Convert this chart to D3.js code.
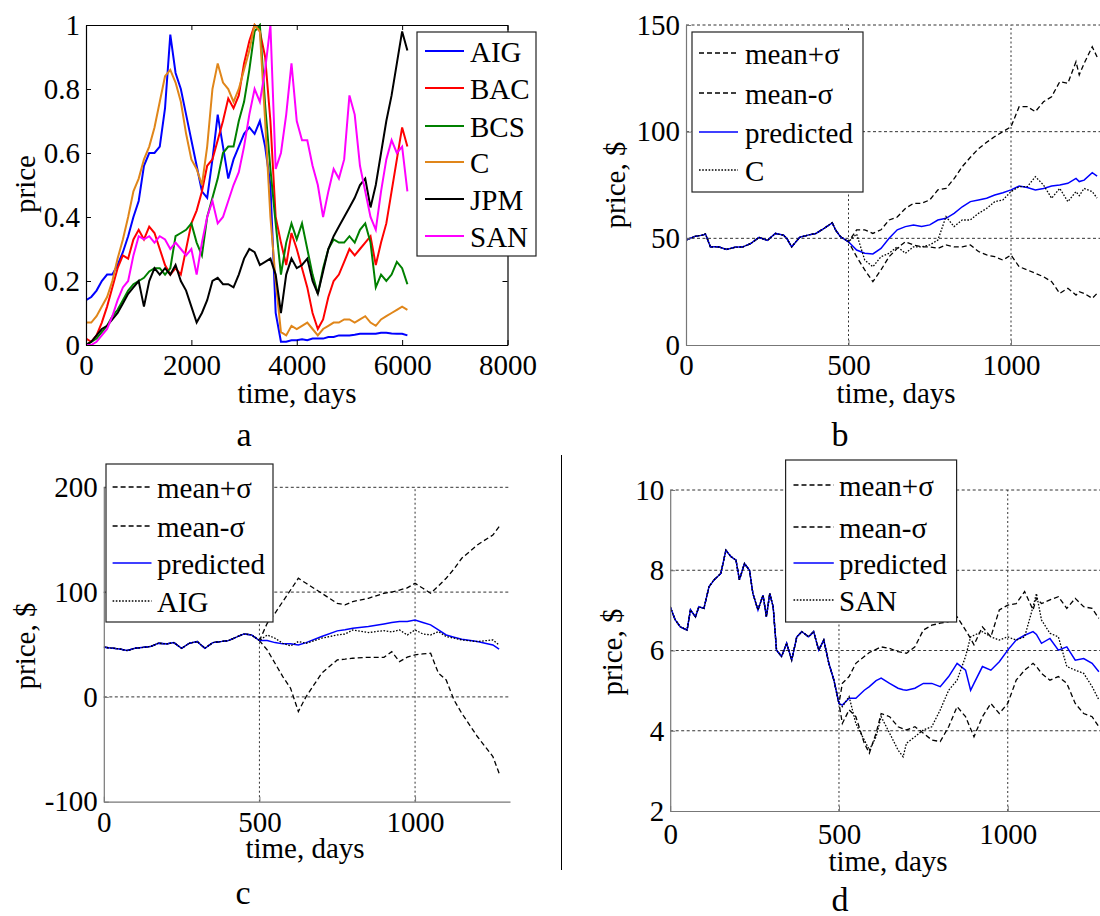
<!DOCTYPE html>
<html>
<head>
<meta charset="utf-8">
<script src="https://cdn.jsdelivr.net/npm/d3@7"></script>
<style>
body { margin: 0; background: #fff; }
svg { display: block; }
svg text { font-family: "Liberation Serif", serif !important; }
</style>
</head>
<body>
<svg id="fig" width="1100" height="916" font-family="Liberation Serif"></svg>
<script>
'use strict';

// ---- panel a: normalised prices, one value per 100 days ----
const aDays = d3.range(0, 6101, 100);
const aNames = ['AIG', 'BAC', 'BCS', 'C', 'JPM', 'SAN'];
const aColors = ['#0000ff', '#ff0000', '#008000', '#e0861a', '#000000', '#ff00ff'];
const aAIG = [0.14,0.15,0.17,0.20,0.22,0.22,0.25,0.29,0.34,0.40, 0.45,0.56,0.60,0.60,0.62,0.74,0.97,0.85,0.80,0.72,
  0.64,0.56,0.48,0.46,0.58,0.72,0.62,0.52,0.58,0.62, 0.66,0.68,0.66,0.70,0.62,0.50,0.10,0.01,0.01,0.015,
  0.015,0.018,0.015,0.02,0.02,0.02,0.025,0.025,0.03,0.03, 0.03,0.032,0.035,0.035,0.035,0.035,0.038,0.038,0.036,0.035,
  0.035,0.03];
const aBAC = [0.02,0.01,0.03,0.07,0.12,0.18,0.24,0.28,0.27,0.33, 0.36,0.33,0.37,0.35,0.30,0.25,0.22,0.24,0.22,0.30,
  0.38,0.42,0.48,0.56,0.58,0.64,0.70,0.77,0.74,0.78, 0.88,0.95,1.0,0.98,0.90,0.70,0.40,0.32,0.25,0.35,
  0.30,0.24,0.18,0.10,0.05,0.08,0.15,0.20,0.22,0.26, 0.30,0.28,0.30,0.32,0.34,0.25,0.32,0.38,0.48,0.58,
  0.68,0.62];
const aBCS = [0.0,0.01,0.02,0.04,0.06,0.09,0.11,0.14,0.17,0.19, 0.20,0.21,0.23,0.24,0.24,0.22,0.24,0.34,0.35,0.36,
  0.38,0.32,0.28,0.40,0.46,0.52,0.60,0.62,0.62,0.70, 0.76,0.86,0.98,1.0,0.75,0.55,0.38,0.22,0.32,0.38,
  0.33,0.38,0.30,0.22,0.16,0.24,0.30,0.33,0.32,0.32, 0.34,0.32,0.36,0.38,0.32,0.18,0.22,0.20,0.22,0.26,
  0.24,0.19];
const aC = [0.07,0.07,0.09,0.12,0.15,0.20,0.27,0.33,0.40,0.48, 0.52,0.58,0.62,0.68,0.76,0.84,0.86,0.82,0.76,0.66,
  0.58,0.55,0.50,0.62,0.80,0.88,0.82,0.80,0.76,0.80, 0.86,0.92,1.0,0.98,0.70,0.40,0.20,0.04,0.03,0.06,
  0.05,0.06,0.07,0.05,0.03,0.05,0.06,0.07,0.07,0.08, 0.08,0.07,0.08,0.09,0.07,0.06,0.08,0.09,0.10,0.11,
  0.12,0.11];
const aJPM = [0.0,0.01,0.03,0.05,0.06,0.08,0.10,0.13,0.16,0.18, 0.20,0.12,0.20,0.24,0.22,0.24,0.22,0.25,0.20,0.17,
  0.12,0.07,0.10,0.14,0.20,0.21,0.19,0.19,0.18,0.22, 0.27,0.30,0.29,0.25,0.26,0.27,0.22,0.10,0.22,0.27,
  0.24,0.25,0.27,0.20,0.16,0.23,0.30,0.34,0.37,0.40, 0.43,0.46,0.50,0.52,0.43,0.50,0.60,0.70,0.78,0.88,
  0.98,0.92];
const aSAN = [0.0,0.0,0.01,0.03,0.05,0.09,0.14,0.18,0.20,0.28, 0.34,0.33,0.34,0.32,0.34,0.33,0.30,0.32,0.30,0.28,
  0.30,0.22,0.32,0.40,0.45,0.38,0.40,0.45,0.50,0.54, 0.62,0.72,0.80,0.76,0.86,1.0,0.55,0.60,0.72,0.88,
  0.70,0.64,0.64,0.56,0.50,0.40,0.48,0.55,0.52,0.58, 0.78,0.72,0.56,0.48,0.40,0.36,0.48,0.58,0.64,0.60,
  0.62,0.48];

// ---- panel b: C ----
const bHistDays = [0,25,50,60,75,100,125,150,175,200,225,250,275,300,310,325,350,375,400,425,450,460,475,500];
const bHist = [49.2,50.8,51.5,52,46,46,44.8,45.8,46,47.6,50.5,49,52.3,51.5,50,46,50.5,51.5,52.3,54.7,57.3,54,50.8,48.4];
const bFutDays = [500,525,550,575,600,625,650,675,700,725,750,775,800,825,850,875,900,925,950,975,1000,1025,1050,1075,1100,1125,1150,1175,1200,1210,1225,1250,1265];
const bUpper = [48.4,54,54,52.3,54,58.6,60,64,66.4,66.4,68,72.7,73.4,78,83.6,88,92,95,97.7,100,102.3,111.7,111.7,109.4,114,116.4,123.4,122.7,132.8,126.6,132,139.8,135];
const bLower = [48.4,41.4,35.2,29.7,35.2,41.4,45.3,48.4,46.9,46,46,45.3,46.9,46,46,46.9,43.8,42.2,41.4,39.8,42.2,36.7,35.2,33.6,32,29.7,24.2,26.6,23.4,25,24.2,21.9,24.2];
const bPred = [48.4,44.5,43,42.7,45.3,50,54,55.5,56.3,55.5,56.3,58.6,59.4,61.7,64.8,67.2,68,68.8,70.3,71.4,72.7,74.5,73.8,72.7,73.4,74.5,75,75.8,78.1,76.6,77.3,80.8,79.2];
const bActual = [48.4,52,39.8,36.7,41.4,43,46,43,46,46,46.9,49.2,60.2,55.5,58.6,58.6,61.7,64,67.2,68,71.9,74.2,74.2,78.9,75,68.8,73.4,67.2,71.9,70,73.4,71.9,68.8];

// ---- panel c: AIG ----
const cHistDays = [0,50,75,100,150,175,200,225,250,275,300,325,350,400,450,475,500];
const cHist = [47.4,45.8,44.2,46.4,48,51.2,50.6,51.8,46.4,51.2,52.8,46.4,51.8,53.7,60.1,59.1,53.7];
const cFutDays = [500,525,550,575,600,625,650,700,750,775,800,850,900,925,950,975,1000,1025,1050,1075,1100,1125,1150,1200,1250,1270];
const cUpper = [53.7,70.3,79.8,91,102,113.2,108.4,98.9,89.3,87.8,91,94.1,98.9,100,102,104,108.4,103.7,98.9,105.9,113.2,122,132.3,145,154.5,162.5];
const cLower = [53.7,44.8,32.1,19.4,8.3,-14,0.3,22.6,35.3,36,36.9,37.8,37.8,43.2,33.7,38,40.1,41,41.7,22.6,16.2,-2.9,-15.6,-37.8,-56.9,-72.8];
const cPred = [53.7,53.7,51.8,50.6,50.6,49.6,51.8,57.6,63,64,65.5,67.1,69.6,71,71.9,72,73.4,71,68.7,63.9,59.1,57,55,52.8,49.6,45.5];
const cActual = [53.7,59.1,56,51.2,48.6,52.8,51.2,56,59.1,60,63.9,61.4,63.3,62,63.9,59.1,63.9,60.1,59.1,62.3,57.6,56,54.4,52.8,54.4,49.6];

// ---- panel d: SAN ----
const dHistDays = [0,15,30,50,60,75,85,100,115,130,150,165,180,195,205,220,235,245,260,275,285,295,305,315,330,345,360,375,390,410,425,440,455,470,485,500];
const dHist = [7.09,6.76,6.59,6.51,7.01,6.84,7.09,7.05,7.59,7.76,7.92,8.50,8.34,8.25,7.76,8.17,8.00,7.42,7.01,7.38,6.84,7.42,7.09,6.01,5.85,6.18,5.76,6.34,6.47,6.34,6.47,6.01,6.26,5.68,5.26,4.68];
const dFutDays = [500,510,530,550,575,590,610,625,650,675,690,700,725,750,775,800,825,850,875,890,900,925,950,975,1000,1025,1050,1075,1085,1100,1125,1150,1175,1200,1225,1250,1270];
const dUpper = [4.68,5.18,5.35,5.68,5.85,5.95,6.03,6.09,6.05,5.97,5.95,5.93,6.09,6.51,6.63,6.68,6.72,6.84,6.51,6.30,6.14,6.59,6.34,7.01,7.13,7.17,7.47,7.01,7.30,7.17,7.26,7.34,7.05,7.30,7.09,7.05,6.80];
const dLower = [4.68,4.18,4.52,4.35,3.69,3.44,3.94,4.43,4.35,4.10,4.05,4.02,4.10,3.94,3.77,3.73,4.10,4.60,4.35,4.05,3.85,4.35,4.68,4.43,4.68,5.26,5.51,5.68,5.60,5.43,5.26,5.35,5.18,4.68,4.43,4.35,4.10];
const dPred = [4.68,4.64,4.81,4.81,5.01,5.10,5.25,5.31,5.18,5.06,5.02,5.01,5.06,5.18,5.18,5.10,5.35,5.68,5.51,5.01,5.18,5.60,5.51,5.72,6.01,6.26,6.38,6.47,6.40,6.18,6.30,6.01,6.09,5.76,5.80,5.68,5.47];
const dActual = [4.68,4.60,4.85,4.18,3.77,3.52,3.85,4.35,3.94,3.52,3.35,3.69,3.85,4.02,4.10,4.52,5.01,5.26,5.85,6.34,6.38,6.47,6.34,6.26,6.34,6.26,6.34,7.09,7.42,6.76,6.43,6.34,5.60,5.51,5.43,5.10,4.77];

const forecastLabels = ['mean+\u03c3', 'mean-\u03c3', 'predicted'];
const DASH = '5,3', DOT = '1.6,1.6';
const FONT = 29;
const SERIF = 'Liberation Serif';

const svg = d3.select('#fig');
svg.append('rect').attr('width', 1100).attr('height', 916).attr('fill', '#fff');

// join history + forecast into one line
function joinSeries(hd, hv, fd, fv) {
    const out = hd.map((d, i) => [d, hv[i]]);
    for (let i = 1; i < fd.length; i++) out.push([fd[i], fv[i]]);
    return out;
}

function forecastPanel(histDays, hist, futDays, upper, lower, pred, actual, stock) {
    return [
        {name: forecastLabels[0], pts: joinSeries(histDays, hist, futDays, upper), color: '#000', dash: DASH, w: 1.3},
        {name: forecastLabels[1], pts: joinSeries(histDays, hist, futDays, lower), color: '#000', dash: DASH, w: 1.3},
        {name: forecastLabels[2], pts: joinSeries(histDays, hist, futDays, pred), color: '#0000ff', dash: null, w: 1.5},
        {name: stock, pts: joinSeries(histDays, hist, futDays, actual), color: '#000', dash: DOT, w: 1.3}
    ];
}

function drawPanel(p) {
    const x = d3.scaleLinear().domain(p.xDomain).range(p.xRange);
    const y = d3.scaleLinear().domain(p.yDomain).range(p.yRange);
    const g = svg.append('g').attr('class', 'panel-' + p.id).attr('font-family', SERIF);
    const xr = Math.min(p.xRange[1], 1100);

    g.append('clipPath').attr('id', 'clip-' + p.id).append('rect')
        .attr('x', p.xRange[0]).attr('y', p.yRange[1] - 2)
        .attr('width', p.xRange[1] - p.xRange[0]).attr('height', p.yRange[0] - p.yRange[1] + 4);

    // grid
    if (p.grid) {
        p.xGrid.forEach(v => {
            g.append('line').attr('x1', x(v)).attr('x2', x(v))
                .attr('y1', p.yRange[0]).attr('y2', p.yRange[1])
                .attr('stroke', '#333').attr('stroke-width', 1).attr('stroke-dasharray', '2,2.5');
        });
        p.yGrid.forEach(v => {
            g.append('line').attr('x1', p.xRange[0]).attr('x2', xr)
                .attr('y1', y(v)).attr('y2', y(v))
                .attr('stroke', '#333').attr('stroke-width', 1).attr('stroke-dasharray', '3,2.5');
        });
    }

    // lines
    const line = d3.line().x(d => x(d[0])).y(d => y(d[1]));
    const lg = g.append('g').attr('clip-path', 'url(#clip-' + p.id + ')');
    p.series.forEach(s => {
        lg.append('path').datum(s.pts)
            .attr('d', line)
            .attr('fill', 'none')
            .attr('stroke', s.color)
            .attr('stroke-width', s.w)
            .attr('stroke-dasharray', s.dash);
    });

    // axes
    const fmt = d => String(d);
    const xa = g.append('g').attr('transform', 'translate(0,' + p.yRange[0] + ')')
        .call(d3.axisBottom(x).tickValues(p.xTicks).tickSize(-5).tickSizeOuter(0).tickPadding(p.xPad).tickFormat(fmt));
    const ya = g.append('g').attr('transform', 'translate(' + p.xRange[0] + ',0)')
        .call(d3.axisLeft(y).tickValues(p.yTicks).tickSize(-5).tickSizeOuter(0).tickPadding(6).tickFormat(fmt));
    const axes = [xa, ya];
    if (p.box) {
        axes.push(g.append('g').attr('transform', 'translate(0,' + p.yRange[1] + ')')
            .call(d3.axisTop(x).tickValues(p.xTicks).tickSize(-5).tickSizeOuter(0).tickFormat('')));
        axes.push(g.append('g').attr('transform', 'translate(' + p.xRange[1] + ',0)')
            .call(d3.axisRight(y).tickValues(p.yTicks).tickSize(-5).tickSizeOuter(0).tickFormat('')));
    }
    axes.forEach(a => {
        a.attr('font-family', SERIF).attr('font-size', FONT);
        a.select('.domain').attr('stroke', p.axisColor).attr('stroke-width', 1.2);
        a.selectAll('.tick line').attr('stroke', p.axisColor);
        a.selectAll('.tick text').attr('font-size', FONT).attr('font-family', SERIF).attr('fill', '#000');
    });

    // axis titles
    g.append('text').attr('x', p.xTitle[0]).attr('y', p.xTitle[1])
        .attr('text-anchor', 'middle').attr('font-family', SERIF).attr('font-size', FONT).text('time, days');
    g.append('text')
        .attr('transform', 'translate(' + p.yTitle[0] + ',' + p.yTitle[1] + ') rotate(-90)')
        .attr('text-anchor', 'middle').attr('dominant-baseline', 'central')
        .attr('font-family', SERIF).attr('font-size', FONT).text(p.yLabel);

    // legend
    const L = p.legend;
    g.append('rect').attr('x', L.x).attr('y', L.y).attr('width', L.w).attr('height', L.h)
        .attr('fill', '#fff').attr('stroke', '#222').attr('stroke-width', 1.2);
    p.series.forEach((s, i) => {
        const yy = L.rows[i];
        g.append('line').attr('x1', L.lx[0]).attr('x2', L.lx[1]).attr('y1', yy).attr('y2', yy)
            .attr('stroke', s.color).attr('stroke-width', s.w).attr('stroke-dasharray', s.dash);
        g.append('text').attr('x', L.tx).attr('y', yy + 11)
            .attr('font-family', SERIF).attr('font-size', FONT).text(s.name);
    });

    // panel caption
    g.append('text').attr('x', p.caption[0]).attr('y', p.caption[1])
        .attr('text-anchor', 'middle').attr('font-family', SERIF).attr('font-size', 34).text(p.id);
}

drawPanel({
    id: 'a',
    xDomain: [0, 8000], xRange: [86, 507.5],
    yDomain: [0, 1], yRange: [345, 25],
    xTicks: [0, 2000, 4000, 6000, 8000], yTicks: [0, 0.2, 0.4, 0.6, 0.8, 1],
    xPad: 9, box: true, grid: false, axisColor: '#000',
    series: aNames.map((n, i) => ({
        name: n, color: aColors[i], dash: null, w: 2,
        pts: aDays.map((d, j) => [d, [aAIG, aBAC, aBCS, aC, aJPM, aSAN][i][j]])
    })),
    xTitle: [297, 403], yTitle: [25, 184], yLabel: 'price',
    legend: {x: 417, y: 32, w: 119, h: 224, lx: [425, 464], tx: 470, rows: [51, 88, 126, 162, 199, 236]},
    caption: [244, 446]
});

drawPanel({
    id: 'b',
    xDomain: [0, 1300], xRange: [686, 1108.5],
    yDomain: [0, 150], yRange: [345, 25],
    xTicks: [0, 500, 1000], yTicks: [0, 50, 100, 150],
    xGrid: [500, 1000], yGrid: [50, 100, 150],
    xPad: 9, box: false, grid: true, axisColor: '#777',
    series: forecastPanel(bHistDays, bHist, bFutDays, bUpper, bLower, bPred, bActual, 'C'),
    xTitle: [896, 403], yTitle: [615, 185], yLabel: 'price, $',
    legend: {x: 692, y: 32, w: 171, h: 160, lx: [699, 738], tx: 745, rows: [53, 93, 132, 170]},
    caption: [840, 446]
});

drawPanel({
    id: 'c',
    xDomain: [0, 1305], xRange: [103.8, 510],
    yDomain: [-100, 200], yRange: [801.7, 487.3],
    xTicks: [0, 500, 1000], yTicks: [-100, 0, 100, 200],
    xGrid: [500, 1000], yGrid: [0, 100, 200],
    xPad: 10, box: false, grid: true, axisColor: '#777',
    series: forecastPanel(cHistDays, cHist, cFutDays, cUpper, cLower, cPred, cActual, 'AIG'),
    xTitle: [305, 858], yTitle: [25, 646], yLabel: 'price, $',
    legend: {x: 106, y: 464, w: 167, h: 158, lx: [112.6, 151.5], tx: 157, rows: [487, 526, 563, 601]},
    caption: [243, 904]
});

drawPanel({
    id: 'd',
    xDomain: [0, 1300], xRange: [670.2, 1109],
    yDomain: [2, 10], yRange: [811, 490],
    xTicks: [0, 500, 1000], yTicks: [2, 4, 6, 8, 10],
    xGrid: [500, 1000], yGrid: [4, 6, 8, 10],
    xPad: 12, box: false, grid: true, axisColor: '#777',
    series: forecastPanel(dHistDays, dHist, dFutDays, dUpper, dLower, dPred, dActual, 'SAN'),
    xTitle: [888, 871], yTitle: [612, 652], yLabel: 'price, $',
    legend: {x: 785.6, y: 460, w: 171, h: 162, lx: [793.5, 833.8], tx: 839, rows: [485, 527, 563, 600]},
    caption: [840, 911]
});

// divider between the lower panels
svg.append('line').attr('x1', 561.5).attr('x2', 561.5).attr('y1', 455).attr('y2', 870)
    .attr('stroke', '#000').attr('stroke-width', 1);
</script>
</body>
</html>
